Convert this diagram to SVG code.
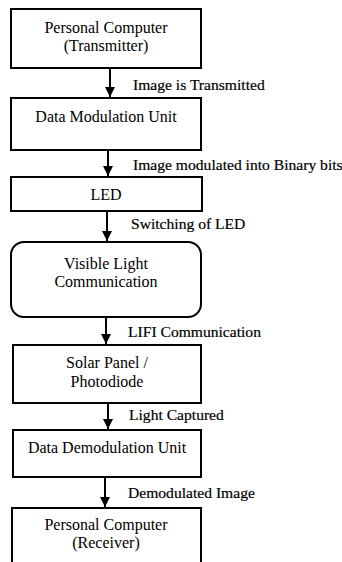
<svg xmlns="http://www.w3.org/2000/svg" width="342" height="562" viewBox="0 0 342 562">
<style>
.box{fill:#fff;stroke:#000;stroke-width:2}
.t{font-family:"Liberation Serif","Times New Roman",serif;font-size:16px;fill:#000;text-anchor:middle}
.l{font-family:"Liberation Serif","Times New Roman",serif;font-size:15.6px;fill:#000;stroke:#000;stroke-width:0.2}
.c{stroke:#000;stroke-width:2;fill:none}
</style>
<defs>
<marker id="ah" markerWidth="5" markerHeight="5" refX="5" refY="2.5" orient="auto" markerUnits="strokeWidth">
<path d="M0,0 L5,2.5 L0,5 Z" fill="#000"/>
</marker>
</defs>
<rect width="342" height="562" fill="#fff"/>
<g id="connectors">
<line class="c" x1="110" y1="68" x2="110" y2="97" marker-end="url(#ah)"/>
<line class="c" x1="108" y1="150" x2="108" y2="176" marker-end="url(#ah)"/>
<line class="c" x1="107" y1="211" x2="107" y2="241" marker-end="url(#ah)"/>
<line class="c" x1="106" y1="317" x2="106" y2="344" marker-end="url(#ah)"/>
<line class="c" x1="108" y1="403" x2="108" y2="429" marker-end="url(#ah)"/>
<line class="c" x1="105" y1="477" x2="105" y2="507" marker-end="url(#ah)"/>
<text class="l" x="133" y="90">Image is Transmitted</text>
<text class="l" x="133" y="170">Image modulated into Binary bits</text>
<text class="l" x="131" y="229">Switching of LED</text>
<text class="l" x="128" y="337">LIFI Communication</text>
<text class="l" x="129" y="420">Light Captured</text>
<text class="l" x="128" y="498">Demodulated Image</text>
</g>
<g id="pc-tx">
<rect class="box" x="11" y="9" width="190" height="59"/>
<text class="t" x="106" y="33">Personal Computer</text>
<text class="t" x="106" y="51">(Transmitter)</text>
</g>
<g id="mod">
<rect class="box" x="11" y="98" width="190" height="52"/>
<text class="t" x="106" y="122">Data Modulation Unit</text>
</g>
<g id="led">
<rect class="box" x="11" y="177" width="191" height="34"/>
<text class="t" x="106" y="200">LED</text>
</g>
<g id="vlc">
<rect class="box" x="11" y="242" width="190" height="75" rx="13" ry="13"/>
<text class="t" x="106" y="269">Visible Light</text>
<text class="t" x="106" y="287">Communication</text>
</g>
<g id="solar">
<rect class="box" x="13" y="345" width="188" height="58"/>
<text class="t" x="107" y="368">Solar Panel /</text>
<text class="t" x="107" y="387">Photodiode</text>
</g>
<g id="demod">
<rect class="box" x="13" y="430" width="188" height="47"/>
<text class="t" x="107" y="453">Data Demodulation Unit</text>
</g>
<g id="pc-rx">
<rect class="box" x="12" y="508" width="189" height="70"/>
<text class="t" x="106" y="530">Personal Computer</text>
<text class="t" x="106" y="548">(Receiver)</text>
</g>
</svg>
